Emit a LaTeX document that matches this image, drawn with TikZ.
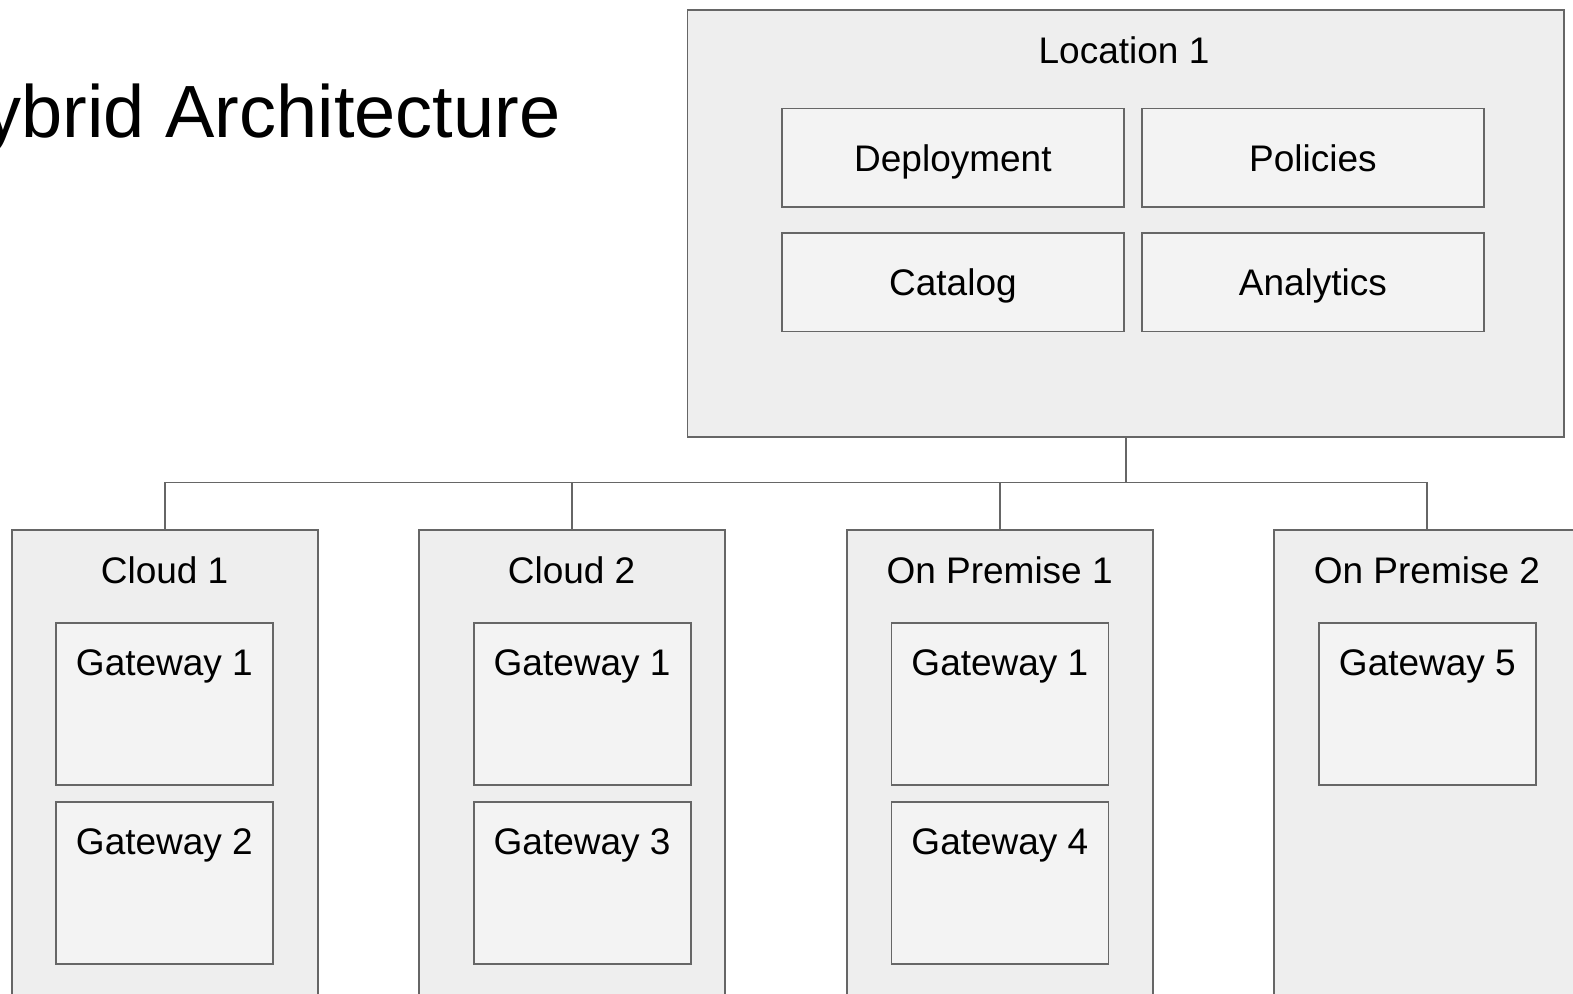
\documentclass[tikz,border=0pt]{standalone}
\usepackage{fontspec}
\setmainfont{Liberation Sans}
\definecolor{edge}{HTML}{666666}
\definecolor{outerfill}{HTML}{EEEEEE}
\definecolor{innerfill}{HTML}{F3F3F3}
\tikzset{
  outerbox/.style={draw=edge, fill=outerfill, line width=1.8pt, rectangle, inner sep=0pt, anchor=north west},
  innerbox/.style={draw=edge, fill=innerfill, line width=1.8pt, rectangle, inner sep=0pt, anchor=north west},
  cellbox/.style={innerbox, minimum width=342pt, minimum height=98.5pt},
  gwbox/.style={innerbox, minimum width=217pt, minimum height=162pt},
  sitebox/.style={outerbox, minimum width=306pt, minimum height=490pt},
  lbl/.style={inner sep=0pt, anchor=base, font=\fontsize{37}{44}\selectfont, text=black},
  conn/.style={draw=edge, line width=1.8pt}
}
\begin{document}
\begin{tikzpicture}[x=1pt,y=-1pt]
\useasboundingbox (0,0) rectangle (1573,993);
\clip (0,0) rectangle (1573,993);
\fill[white] (0,0) rectangle (1573,993);

% title
\node[inner sep=0pt, anchor=base west, font=\fontsize{74}{88}\selectfont] (title) at (-69,137.5) {Hybrid Architecture};

% Location 1
\node[outerbox, minimum width=876.5pt, minimum height=427pt] (loc) at (686.5,9) {};
\node[lbl] (loclbl) at (1124,63.3) {Location 1};
\node[cellbox] (dep) at (781,107.5) {};
\node[cellbox] (pol) at (1141,107.5) {};
\node[cellbox] (cat) at (781,232) {};
\node[cellbox] (ana) at (1141,232) {};
\node[lbl] (deplbl) at ([yshift=-14pt]dep.center) {Deployment};
\node[lbl] (pollbl) at ([yshift=-14pt]pol.center) {Policies};
\node[lbl] (catlbl) at ([yshift=-13pt]cat.center) {Catalog};
\node[lbl] (analbl) at ([yshift=-13pt]ana.center) {Analytics};

% sites
\node[sitebox] (c1) at (10.7,529) {};
\node[sitebox] (c2) at (417.7,529) {};
\node[sitebox] (op1) at (845.7,529) {};
\node[sitebox] (op2) at (1273,529) {};
\node[lbl] (c1lbl) at (c1.north |- 0,583) {Cloud 1};
\node[lbl] (c2lbl) at (c2.north |- 0,583) {Cloud 2};
\node[lbl] (op1lbl) at (op1.north |- 0,583) {On Premise 1};
\node[lbl] (op2lbl) at (op2.north |- 0,583) {On Premise 2};

% gateways
\node[gwbox] (g11) at (55,622) {};
\node[gwbox] (g12) at (55,801) {};
\node[gwbox] (g21) at (472.7,622) {};
\node[gwbox] (g22) at (472.7,801) {};
\node[gwbox] (g31) at (890.5,622) {};
\node[gwbox] (g32) at (890.5,801) {};
\node[gwbox] (g41) at (1318,622) {};
\node[lbl] (g11l) at ([yshift=-53pt]g11.north) {Gateway 1};
\node[lbl] (g12l) at ([yshift=-53pt]g12.north) {Gateway 2};
\node[lbl] (g21l) at ([yshift=-53pt]g21.north) {Gateway 1};
\node[lbl] (g22l) at ([yshift=-53pt]g22.north) {Gateway 3};
\node[lbl] (g31l) at ([yshift=-53pt]g31.north) {Gateway 1};
\node[lbl] (g32l) at ([yshift=-53pt]g32.north) {Gateway 4};
\node[lbl] (g41l) at ([yshift=-53pt]g41.north) {Gateway 5};

% connectors
\coordinate (bus) at (loc.south |- 0,482.5);
\draw[conn] (loc.south) -- (bus);
\draw[conn] (c1.north) |- (bus);
\draw[conn] (op2.north) |- (bus);
\draw[conn] (c2.north) -- (c2.north |- bus);
\draw[conn] (op1.north) -- (op1.north |- bus);
\end{tikzpicture}
\end{document}
